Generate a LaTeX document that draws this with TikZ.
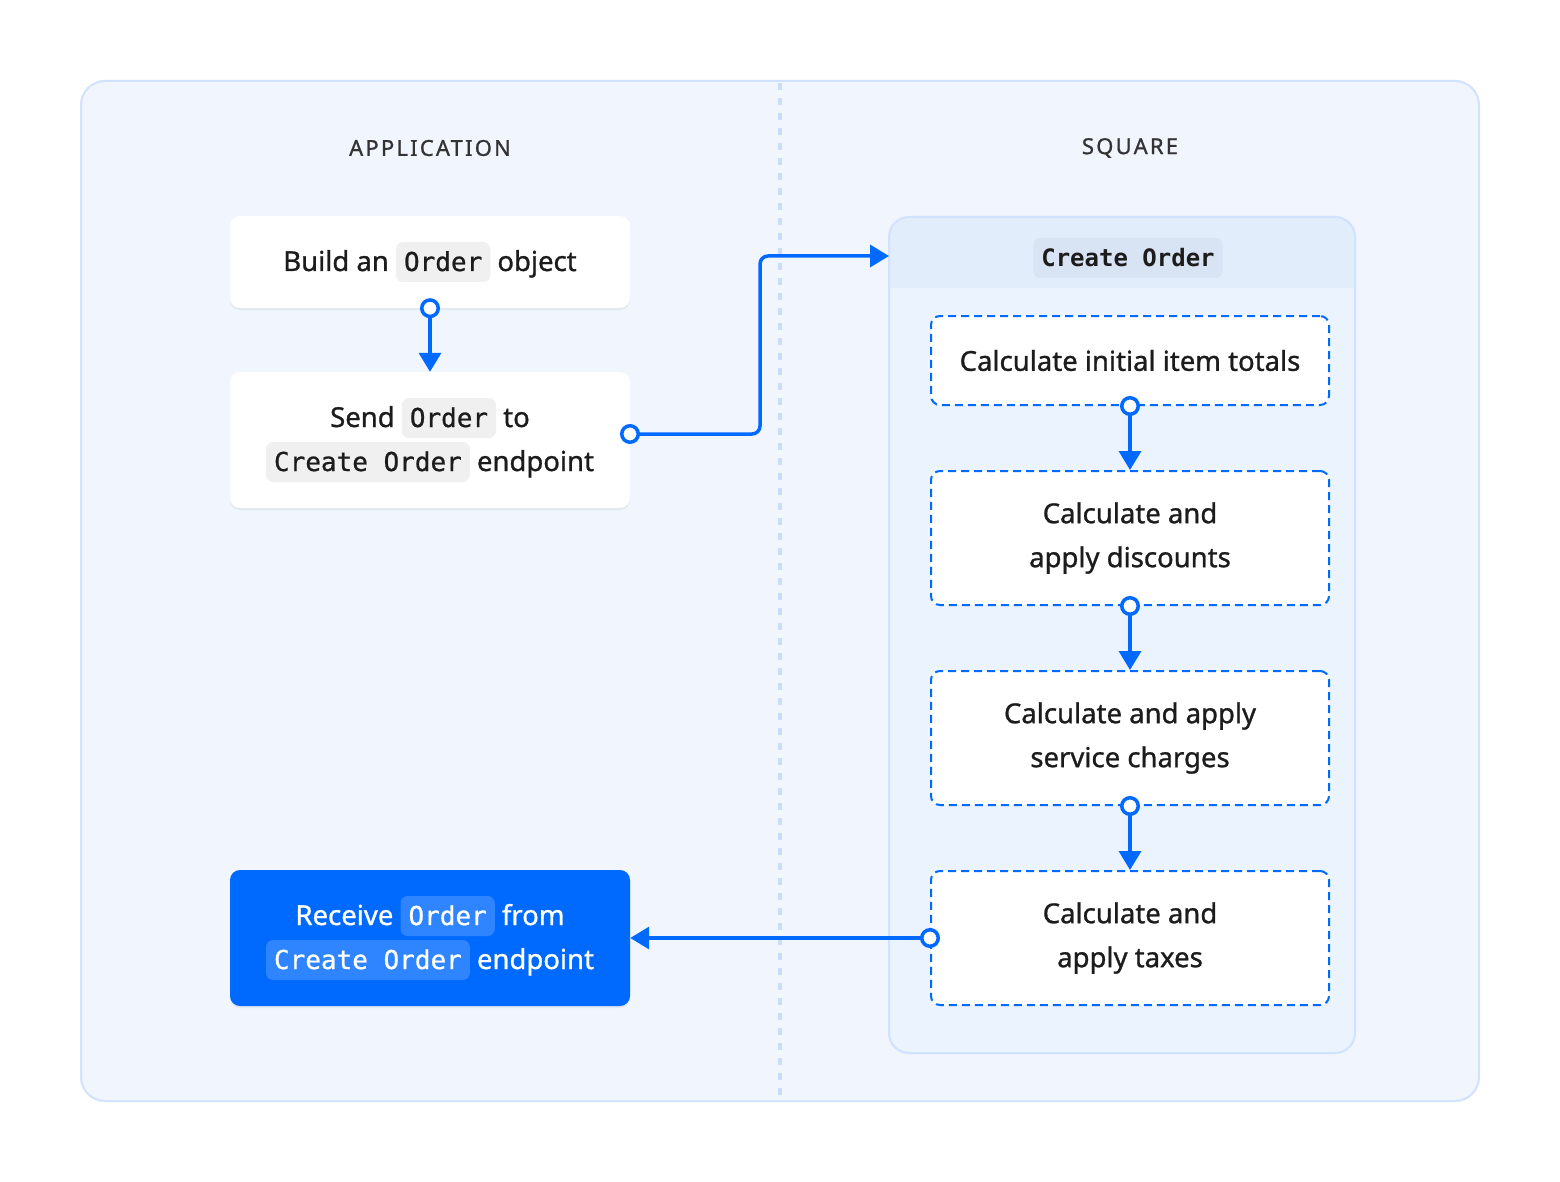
\documentclass[tikz,border=0pt]{standalone}
\usepackage{fontspec}
\setmainfont{Noto Sans}
\setmonofont{DejaVu Sans Mono}
\usetikzlibrary{arrows.meta}
\definecolor{bgout}{HTML}{F0F5FE}
\definecolor{bdr}{HTML}{D0E2FD}
\definecolor{divc}{HTML}{C9DCF8}
\definecolor{sqfill}{HTML}{EBF3FE}
\definecolor{hdr}{HTML}{E2EDFC}
\definecolor{hdrtag}{HTML}{D8E3F3}
\definecolor{blu}{HTML}{006AFF}
\definecolor{codebg}{HTML}{F0F0F0}
\definecolor{codeblu}{HTML}{2F84FF}
\definecolor{ink}{HTML}{1C1C1C}
\definecolor{lbl}{HTML}{333333}
\definecolor{shad}{HTML}{E2E8F0}
\newcommand{\codetag}[2][codebg]{\tikz[baseline=0pt]\node[anchor=base, fill=#1, draw=none, rounded corners=7pt, minimum width=0pt, minimum height=0pt, inner xsep=8pt, inner ysep=0pt, text height=29pt, text depth=11pt, font=\fontsize{26}{30}\ttfamily\addfontfeatures{FakeBold=0.8}] (codetag) {#2};}
\tikzset{
  bodyfont/.style={font=\fontsize{27.5}{44}\selectfont\addfontfeatures{FakeBold=1}},
  card/.style={fill=white, rounded corners=10pt, minimum width=400pt, align=center, text=ink, bodyfont},
  bluecard/.style={fill=blu, rounded corners=10pt, minimum width=400pt, align=center, text=white, bodyfont},
  stepbox/.style={draw=blu, line width=2pt, dash pattern=on 8pt off 5pt, fill=white, rounded corners=9pt, minimum width=398pt, align=center, text=ink, bodyfont},
  conn/.style={draw=blu, line width=3.5pt, -{Triangle[width=22pt,length=19pt]}},
  dot/.style={circle, draw=blu, line width=3.5pt, fill=white, minimum size=16.5pt, inner sep=0pt},
  lane/.style={text=lbl, font=\fontsize{22}{26}\selectfont\addfontfeatures{LetterSpace=10,FakeBold=1}},
}
\begin{document}
\begin{tikzpicture}[x=1pt,y=-1pt]
\useasboundingbox (0,0) rectangle (1560,1182);
\fill[white] (0,0) rectangle (1560,1182);
% outer panel
\draw[fill=bgout, draw=bdr, line width=2pt, rounded corners=24pt] (81,81) rectangle (1479,1101);
\draw[divc, line width=3.5pt, dash pattern=on 7pt off 8pt] (780,83) -- (780,1099);
\node[lane] (lapp) at (430,148) {APPLICATION};
\node[lane] (lsq) at (1130,148) {SQUARE};
% square container
\begin{scope}
\clip[rounded corners=20pt] (889,217) rectangle (1355,1053);
\fill[sqfill] (889,217) rectangle (1355,1053);
\fill[hdr] (889,217) rectangle (1355,288);
\end{scope}
\node[draw=bdr, line width=2pt, rounded corners=20pt, minimum width=466pt, minimum height=836pt] (sq) at (1122,635) {};
\node[fill=hdrtag, rounded corners=7pt, inner xsep=8pt, inner ysep=0pt, text height=28pt, text depth=12pt, font=\fontsize{24}{28}\ttfamily\bfseries, text=ink] (hdrlabel) at (1128,258) {Create Order};
% application cards
\fill[shad, rounded corners=10pt] (230,218) rectangle (630,310);
\node[card, minimum height=92pt] (build) at (430,262) {Build an \codetag{Order} object};
\fill[shad, rounded corners=10pt] (230,374) rectangle (630,510);
\node[card, minimum height=136pt] (send) at (430,440) {Send \codetag{Order} to\\\codetag{Create Order} endpoint};
\fill[shad, rounded corners=10pt] (230,872) rectangle (630,1008);
\node[bluecard, minimum height=136pt] (recv) at (430,938) {Receive \codetag[codeblu]{Order} from\\\codetag[codeblu]{Create Order} endpoint};
% square steps
\node[stepbox, minimum height=89pt] (s1) at (1130,360.5) {Calculate initial item totals};
\node[stepbox, minimum height=134pt] (s2) at (1130,538) {Calculate and\\apply discounts};
\node[stepbox, minimum height=134pt] (s3) at (1130,738) {Calculate and apply\\service charges};
\node[stepbox, minimum height=134pt] (s4) at (1130,938) {Calculate and\\apply taxes};
% connectors
\draw[conn] (build.south) -- (send.north);
\node[dot] (d1) at (build.south) {};
\coordinate (sendout) at (630,434);
\coordinate (entry) at (889,256);
\draw[conn, rounded corners=8pt] (sendout) -- (760,434) -- (760,256) -- (entry);
\node[dot] (d2) at (sendout) {};
\draw[conn] (s1.south) -- (s2.north);
\node[dot] (d3) at (s1.south) {};
\draw[conn] (s2.south) -- (s3.north);
\node[dot] (d4) at (s2.south) {};
\draw[conn] (s3.south) -- (s4.north);
\node[dot] (d5) at (s3.south) {};
\draw[conn] (s4.west) -- (recv.east);
\node[dot] (d6) at (s4.west) {};
\end{tikzpicture}
\end{document}
